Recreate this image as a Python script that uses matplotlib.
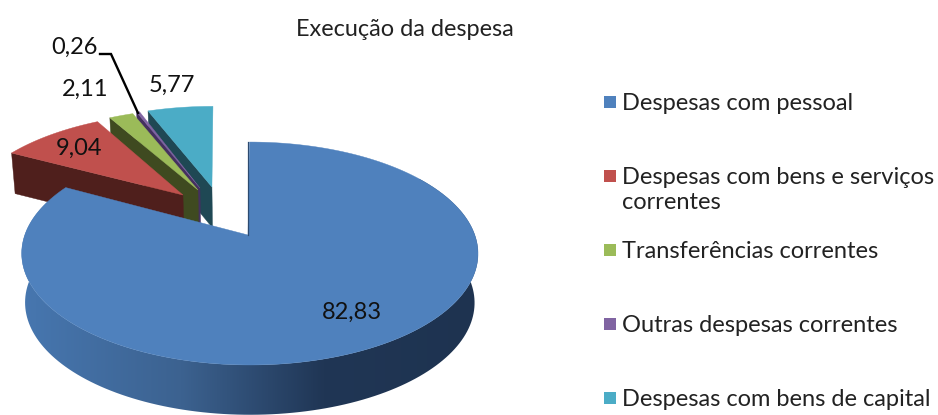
import numpy as np
import matplotlib
matplotlib.use('Agg')
import matplotlib.pyplot as plt
from matplotlib.colors import LinearSegmentedColormap
from matplotlib.patches import Polygon

plt.rcParams['font.family'] = ['Lato', 'DejaVu Sans']

#%% data
title = 'Execução da despesa'
categories = ['Despesas com pessoal', 'Despesas com bens e serviços\ncorrentes',
              'Transferências correntes', 'Outras despesas correntes',
              'Despesas com bens de capital']
values = [82.83, 9.04, 2.11, 0.26, 5.77]

#%% styles
top_colors = ['#4F81BD', '#C0504D', '#9BBB59', '#8064A2', '#4BACC6']
wall_colors = ['#2C4A70', '#4F1F1C', '#3F4A20', '#44305F', '#1F4854']
# explosion of each slice in the plane of the pie: rim u, rim v, apex u correction
explode = [(0.008, 0.0, -0.008), (-0.32, 0.393, 0.012), (-0.259, 0.446, 0.02),
           (-0.24, 0.467, 0.01), (-0.194, 0.478, 0.021)]
label_pos = [(352, 312), (79, 148), (85, 89), (75, 47), (172, 85)]

# perspective of the pie, in pixels
X0, Y0, RX, RY, K = 248, 235, 225, 108.4, 0.166
DEPTH_MAIN, DEPTH_SLICE, SHRINK = 49, 41, 0.985


def project(u, v, depth=None):
    w = 1 / (1 + K * np.asarray(v))
    if depth is None:
        return X0 + RX * np.asarray(u) * w, Y0 - RY * np.asarray(v) * w
    return (X0 + SHRINK * RX * np.asarray(u) * w,
            Y0 + depth * w ** 0.3 - SHRINK * RY * np.asarray(v) * w)


fig = plt.figure(figsize=(9.38, 4.15), dpi=100)
ax = fig.add_axes([0, 0, 1, 1])

edges = np.cumsum([0] + values) / np.sum(values) * 2 * np.pi
order = [4, 3, 2, 1, 0]  # back slices first

for ii in order:
    du, dv, fix = explode[ii]
    th = np.linspace(edges[ii], edges[ii + 1], 200)
    rim_u, rim_v = np.sin(th) + du, np.cos(th) + dv
    apex_u, apex_v = du + fix, dv

    if ii == 0:
        # outer wall with the gradient from left to right
        tx, ty = project(rim_u, rim_v)
        bx, by = project(rim_u, rim_v, DEPTH_MAIN)
        wall = Polygon(np.r_[np.c_[tx, ty], np.c_[bx, by][::-1]], closed=True,
                       facecolor='none', edgecolor='none')
        ax.add_patch(wall)
        cmap = LinearSegmentedColormap.from_list(
            'wall', [(0, '#4777B0'), (0.35, '#3C6290'), (0.66, '#203655'),
                     (1, '#1E3350')])
        img = ax.imshow(np.linspace(0, 1, 256).reshape(1, -1), cmap=cmap,
                        extent=[20, 480, 420, 180], aspect='auto', zorder=1)
        img.set_clip_path(wall)
    else:
        # wall under the left radial edge of the exploded slice
        ax_, ay_ = project(apex_u, apex_v)
        ex, ey = project(rim_u[0], rim_v[0])
        abx, aby = project(apex_u, apex_v, DEPTH_SLICE)
        ebx, eby = project(rim_u[0], rim_v[0], DEPTH_SLICE)
        ax.add_patch(Polygon([(ax_, ay_), (ex, ey), (ebx, eby), (abx, aby)],
                             closed=True, facecolor=wall_colors[ii],
                             edgecolor=wall_colors[ii], lw=0.3, zorder=2))

    tu = np.r_[apex_u, rim_u]
    tv = np.r_[apex_v, rim_v]
    px, py = project(tu, tv)
    ax.add_patch(Polygon(np.c_[px, py], closed=True, facecolor=top_colors[ii],
                         edgecolor=top_colors[ii], lw=0.3, zorder=2))

# thin dark edge on the opening of the big slice
ex, ey = project([0, 0], [0, 1])
ax.plot(ex, ey, color='#2C4A70', lw=0.9, zorder=3)

# value labels
for val, (lx, ly) in zip(values, label_pos):
    ax.text(lx, ly, ('%.2f' % val).replace('.', ','), ha='center', va='center',
            fontsize=17, color='#111111', zorder=5)

# leader line for the small slice
ax.plot([100, 111, 138], [54, 54, 113], color='black', lw=1.7, zorder=4,
        solid_joinstyle='miter')

ax.text(405, 30, title, ha='center', va='center', fontsize=16.9, color='#222222')

# legend
for ii, name in enumerate(categories):
    ly = 102 + 74 * ii
    ax.scatter([609.5], [ly], marker='s', s=85, color=top_colors[ii], linewidths=0, zorder=4)
    ax.text(622, ly - 9.5, name, ha='left', va='top', fontsize=17, color='#222222',
            linespacing=1.25)

ax.set_xlim(0, 938)
ax.set_ylim(415, 0)
ax.axis('off')
fig.savefig('out.png', dpi=100)
